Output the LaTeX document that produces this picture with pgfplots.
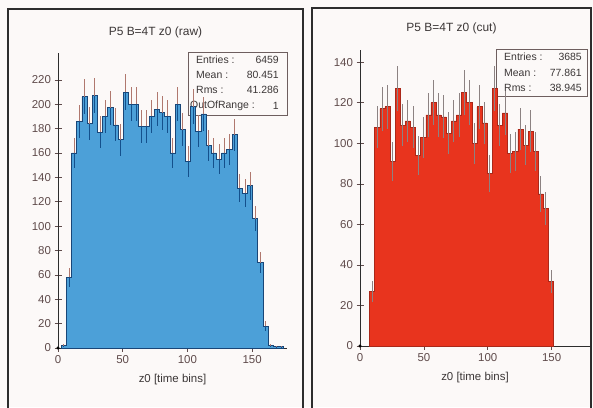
\documentclass[border=0pt]{standalone}
\usepackage{fontspec}
\setmainfont{Liberation Sans}
\usepackage{pgfplots}
\usepackage{pgfplotstable}
\pgfplotsset{compat=1.18}

\definecolor{bgcol}{RGB}{252,249,248}
\definecolor{framecol}{RGB}{45,45,45}
\definecolor{textcol}{RGB}{60,55,55}
\definecolor{tickcol}{RGB}{95,75,75}
\definecolor{boxcol}{RGB}{110,95,95}
\definecolor{bluefill}{RGB}{76,160,216}
\definecolor{blueedge}{RGB}{25,70,120}
\definecolor{errup}{RGB}{176,120,110}
\definecolor{errdown}{RGB}{20,80,140}
\definecolor{redfill}{RGB}{232,52,30}
\definecolor{rededge}{RGB}{170,40,25}
\definecolor{errred}{RGB}{140,130,130}

\pgfplotstableread{
x y e
2.5 2 1.4
6.5 58 7.6
10.5 160 12.6
14.5 186 13.6
18.5 206 14.4
22.5 184 13.6
26.5 207 14.4
30.5 177 13.3
34.5 190 13.8
38.5 197 14.0
42.5 183 13.5
46.5 171 13.1
50.5 210 14.5
54.5 200 14.1
58.5 200 14.1
62.5 182 13.5
66.5 182 13.5
70.5 190 13.8
74.5 196 14.0
78.5 193 13.9
82.5 190 13.8
86.5 160 12.6
90.5 200 14.1
94.5 179 13.4
98.5 153 12.4
102.5 198 14.1
106.5 178 13.3
110.5 192 13.9
114.5 166 12.9
118.5 160 12.6
122.5 155 12.4
126.5 160 12.6
130.5 163 12.8
134.5 175 13.2
138.5 131 11.4
142.5 127 11.3
146.5 133 11.5
150.5 106 10.3
154.5 70 8.4
158.5 18 4.2
162.5 2 1.4
166.5 1 1.0
170.5 1 1.0
174.5 1 0
}\lefttab

\pgfplotstableread{
x y e
7.5 27 5.2
11.5 108 10.4
15.5 117 10.8
19.5 118 10.9
23.5 91 9.5
27.5 127 11.3
31.5 109 10.4
35.5 111 10.5
39.5 108 10.4
43.5 94 9.7
47.5 103 10.1
51.5 114 10.7
55.5 120 11.0
59.5 114 10.7
63.5 113 10.6
67.5 105 10.2
71.5 111 10.5
75.5 114 10.7
79.5 125 11.2
83.5 120 11.0
87.5 100 10.0
91.5 118 10.9
95.5 110 10.5
99.5 85 9.2
103.5 127 11.3
107.5 109 10.4
111.5 115 10.7
115.5 95 9.7
119.5 96 9.8
123.5 107 10.3
127.5 99 9.9
131.5 106 10.3
135.5 96 9.8
139.5 75 8.7
143.5 68 8.2
147.5 32 5.7
151.5 32 0
}\righttab

\pgfplotsset{
  histax/.style={
    anchor=south west, scale only axis,
    axis x line*=bottom, axis y line*=left,
    xmin=0,
    xtick={0,50,100,150},
    tick align=center, major tick length=7bp,
    tick style={color=tickcol, line width=0.6bp},
    axis line style={color=framecol, line width=0.7bp},
    tick label style={font=\fontsize{11.5}{12}\selectfont, text=tickcol},
    /pgf/number format/assume math mode=true,
    ymin=0,
  }
}

\begin{document}
\begin{tikzpicture}[x=1bp,y=1bp]
\useasboundingbox (0,0) rectangle (593,407);
\fill[bgcol] (0,0) rectangle (593,407);
% panel frames
\draw[framecol, line width=1.3bp] (8,-2) -- (8,398) -- (303,398) -- (303,-2);
\draw[framecol, line width=1.3bp] (312,-2) -- (312,399) -- (591,399) -- (591,-2);
% titles
\node[font=\fontsize{12}{14}\selectfont, text=textcol] at (155.5,375) {P5 B=4T z0 (raw)};
\node[font=\fontsize{12}{14}\selectfont, text=textcol] at (451.5,379) {P5 B=4T z0 (cut)};
% x labels
\node[font=\fontsize{11.5}{14}\selectfont, text=textcol] at (172.5,27) {z0 [time bins]};
\node[font=\fontsize{11.5}{14}\selectfont, text=textcol] at (475,29) {z0 [time bins]};
% stats boxes
\draw[boxcol, line width=0.8bp] (188,292) rectangle (287,355);
\begin{scope}[every node/.style={font=\fontsize{10.5}{12}\selectfont, text=textcol, inner sep=0pt}]
\node[anchor=west] at (196,347) {Entries :};
\node[anchor=east] at (279,347) {6459};
\node[anchor=west] at (196,332) {Mean :};
\node[anchor=east] at (279,332) {80.451};
\node[anchor=west] at (196,317) {Rms :};
\node[anchor=east] at (279,317) {41.286};
\node[anchor=west] at (190,301) {OutOfRange :};
\node[anchor=east] at (279,301) {1};
\end{scope}
\draw[boxcol, line width=0.8bp] (496,311) rectangle (587,358);
\begin{scope}[every node/.style={font=\fontsize{10.5}{12}\selectfont, text=textcol, inner sep=0pt}]
\node[anchor=west] at (504,350) {Entries :};
\node[anchor=east] at (582,350) {3685};
\node[anchor=west] at (504,334) {Mean :};
\node[anchor=east] at (582,334) {77.861};
\node[anchor=west] at (504,319) {Rms :};
\node[anchor=east] at (582,319) {38.945};
\end{scope}

% left axis
\begin{axis}[histax, at={(58bp,59bp)}, width=229bp, height=295bp,
  xmax=177, ymax=242, ytick={0,20,...,220}]
\addplot[const plot, fill=bluefill, draw=blueedge, line width=0.8bp]
  table[x=x, y=y]{\lefttab} \closedcycle;
\addplot[draw=none, mark=none, forget plot,
  error bars/.cd, y dir=plus, y explicit, error mark=none,
  error bar style={draw=errup, line width=0.9bp}]
  table[x expr=\thisrow{x}+2, y=y, y error=e]{\lefttab};
\addplot[draw=none, mark=none, forget plot,
  error bars/.cd, y dir=minus, y explicit, error mark=none,
  error bar style={draw=errdown, line width=0.9bp}]
  table[x expr=\thisrow{x}+2, y=y, y error=e]{\lefttab};
\addplot[only marks, mark=*, mark size=1.3bp, color=black] coordinates {(0,0)};
\end{axis}

% right axis
\begin{axis}[histax, at={(360bp,61bp)}, width=230bp, height=296bp,
  xmax=180, ymax=146, ytick={0,20,...,140}]
\addplot[const plot, fill=redfill, draw=rededge, line width=0.6bp]
  table[x=x, y=y]{\righttab} \closedcycle;
\addplot[draw=none, mark=none, forget plot,
  error bars/.cd, y dir=both, y explicit, error mark=none,
  error bar style={draw=errred, line width=0.9bp}]
  table[x expr=\thisrow{x}+2, y=y, y error=e]{\righttab};
\addplot[only marks, mark=*, mark size=1.3bp, color=black] coordinates {(0,0)};
\end{axis}
\end{tikzpicture}
\end{document}
